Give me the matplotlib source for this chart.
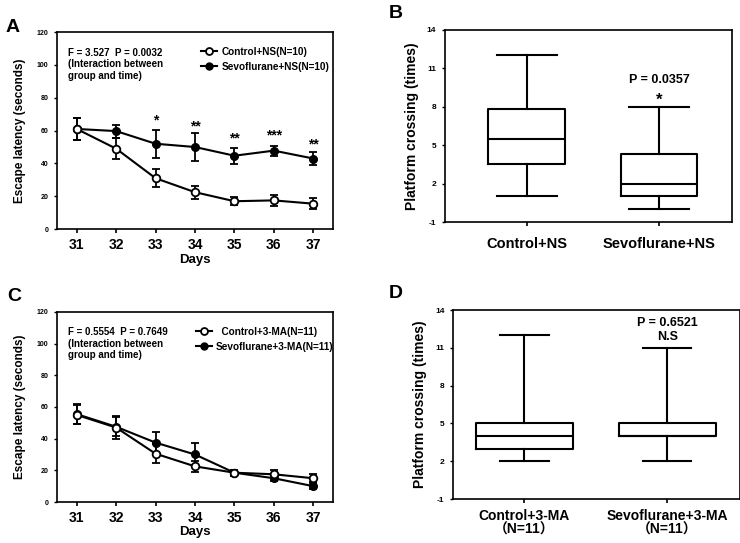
import matplotlib
matplotlib.use("Agg")
import matplotlib.pyplot as plt
from matplotlib.lines import Line2D

plt.rcParams['font.family'] = ['Liberation Sans', 'Noto Sans CJK SC', 'DejaVu Sans']
plt.rcParams['font.weight'] = 'bold'
plt.rcParams['axes.unicode_minus'] = False

days = [31, 32, 33, 34, 35, 36, 37]

# Panel A: escape latency, NS groups
ctrl_ns = [61, 49, 31, 22.5, 17, 17.5, 15.5]
ctrl_ns_err = [6.5, 6.3, 5.5, 4, 2.5, 3.5, 3.5]
sevo_ns = [61, 59.7, 52, 50, 44.7, 47.8, 43]
sevo_ns_err = [6.5, 4, 8.5, 8.3, 5, 3, 4]
stars_a = ['*', '**', '**', '***', '**']
stars_a_days = [33, 34, 35, 36, 37]
stars_a_y = [66, 62.5, 55.5, 57, 51.5]

# Panel C: escape latency, 3-MA groups
ctrl_ma = [55, 47, 30.5, 22.5, 18.5, 17.5, 15]
ctrl_ma_err = [6, 7, 6, 3.5, 2, 2.5, 2.5]
sevo_ma = [55.5, 47.5, 37.5, 30, 18.5, 15, 10]
sevo_ma_err = [6.5, 6, 7, 7.5, 2, 2, 2]

# Panels B and D: platform crossing box stats (whislo, q1, med, q3, whishi)
groups_ns = ['Control+NS', 'Sevoflurane+NS']
box_ns = [[1, 3.5, 5.5, 7.8, 12], [0, 1, 2, 4.3, 8]]
groups_ma = ['Control+3-MA\n（N=11）', 'Sevoflurane+3-MA\n（N=11）']
box_ma = [[2, 3, 4, 5, 12], [2, 4, 4, 5, 11]]

fig = plt.figure(figsize=(7.4, 5.43), dpi=100)


def latency_panel(ax, ctrl, ctrl_err, sevo, sevo_err, labels, stat_text, leg_anchor):
    ax.errorbar(days, sevo, yerr=sevo_err, color='black', marker='o', ms=5.5, lw=1.5,
                capsize=3, elinewidth=1.3, capthick=1.3, zorder=3)
    ax.errorbar(days, ctrl, yerr=ctrl_err, color='black', marker='o', ms=5.5, lw=1.5,
                mfc='white', mew=1.3, capsize=3, elinewidth=1.3, capthick=1.3, zorder=4)
    ax.set_xlim(30.5, 37.5)
    ax.set_ylim(0, 120)
    ax.set_xticks(days)
    ax.set_yticks([0, 20, 40, 60, 80, 100, 120])
    ax.tick_params(axis='x', labelsize=10, length=3, width=1.2)
    ax.tick_params(axis='y', labelsize=5, length=2.5, width=1)
    ax.set_xlabel('Days', fontsize=9.5, fontweight='bold', labelpad=1)
    ax.set_ylabel('Escape latency (seconds)', fontsize=8.5, fontweight='bold', labelpad=8)
    for s in ax.spines.values():
        s.set_linewidth(1.2)
    ax.text(0.04, 0.92, stat_text, transform=ax.transAxes, fontsize=7,
            va='top', ha='left', linespacing=1.2)
    handles = [Line2D([], [], color='black', marker='o', ms=5, lw=1.5, mfc='white', mew=1.3),
               Line2D([], [], color='black', marker='o', ms=5, lw=1.5)]
    ax.legend(handles, labels, loc='upper left', bbox_to_anchor=leg_anchor, frameon=False,
              fontsize=7.2, handlelength=1.6, handletextpad=0.4, labelspacing=0.5)


def box_panel(ax, stats, names, widths, capw, xlim, pad):
    bxp_stats = []
    for v, n in zip(stats, names):
        bxp_stats.append(dict(whislo=v[0], q1=v[1], med=v[2], q3=v[3], whishi=v[4],
                              fliers=[], label=n))
    style = dict(color='black', linewidth=1.5)
    ax.bxp(bxp_stats, widths=widths, capwidths=capw, showfliers=False,
           boxprops=style, whiskerprops=style, capprops=style, medianprops=style)
    ax.set_xlim(*xlim)
    ax.set_ylim(-1, 14)
    ax.set_yticks([-1, 2, 5, 8, 11, 14])
    ax.tick_params(axis='x', labelsize=10.5, length=3, width=1.2, pad=pad)
    ax.tick_params(axis='y', labelsize=6, length=2.5, width=1)
    ax.set_ylabel('Platform crossing (times)', fontsize=10, fontweight='bold', labelpad=6)
    for s in ax.spines.values():
        s.set_linewidth(1.2)


ax_a = fig.add_axes([0.077, 0.578, 0.373, 0.363])
latency_panel(ax_a, ctrl_ns, ctrl_ns_err, sevo_ns, sevo_ns_err,
              ['Control+NS(N=10)', 'Sevoflurane+NS(N=10)'],
              'F = 3.527  P = 0.0032\n(Interaction between\ngroup and time)', (0.49, 0.97))
for d, s, y in zip(stars_a_days, stars_a, stars_a_y):
    ax_a.text(d, y, s, ha='center', va='center', fontsize=10)

ax_b = fig.add_axes([0.601, 0.591, 0.388, 0.354])
box_panel(ax_b, box_ns, groups_ns, 0.58, 0.45, (0.38, 2.55), 8)
ax_b.text(2, 10.1, 'P = 0.0357', ha='center', va='center', fontsize=9)
ax_b.text(2, 8.5, '*', ha='center', va='center', fontsize=12)

ax_c = fig.add_axes([0.077, 0.0755, 0.373, 0.35])
latency_panel(ax_c, ctrl_ma, ctrl_ma_err, sevo_ma, sevo_ma_err,
              ['  Control+3-MA(N=11)', 'Sevoflurane+3-MA(N=11)'],
              'F = 0.5554  P = 0.7649\n(Interaction between\ngroup and time)', (0.47, 0.97))

ax_d = fig.add_axes([0.612, 0.081, 0.388, 0.348])
box_panel(ax_d, box_ma, groups_ma, 0.68, 0.34, (0.5, 2.51), 4)
for t in ax_d.get_xticklabels():
    t.set_linespacing(0.95)
    t.set_fontsize(10)
ax_d.text(2, 13.0, 'P = 0.6521', ha='center', va='center', fontsize=9)
ax_d.text(2, 11.9, 'N.S', ha='center', va='center', fontsize=9)

for lbl, x, y in [('A', 0.008, 0.965), ('B', 0.525, 0.99), ('C', 0.01, 0.47), ('D', 0.525, 0.475)]:
    fig.text(x, y, lbl, fontsize=14, fontweight='bold', va='top', ha='left')

fig.savefig('out.png', dpi=100)
